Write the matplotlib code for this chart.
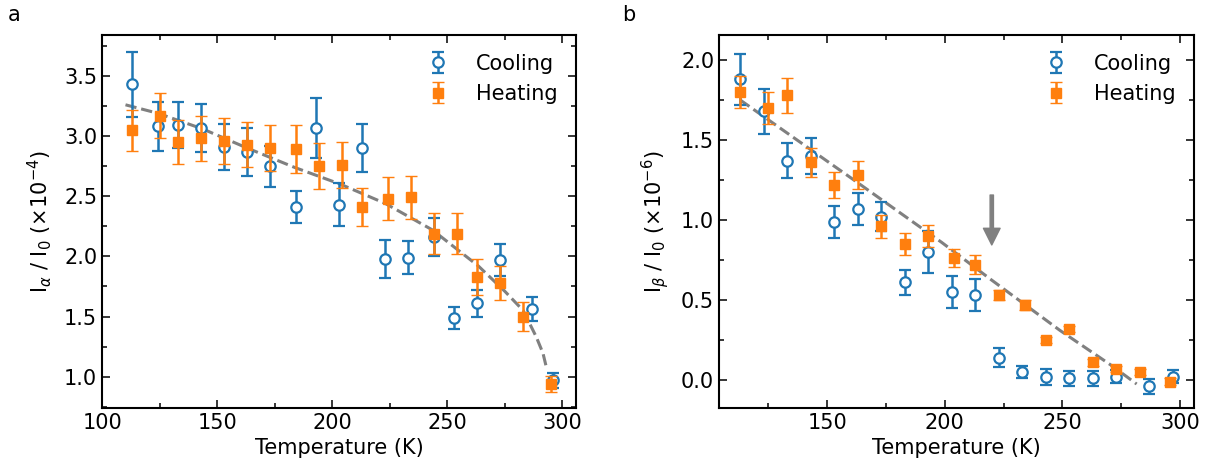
import matplotlib
matplotlib.use('Agg')
import matplotlib.pyplot as plt
from matplotlib.ticker import MultipleLocator

plt.rcParams['font.family'] = ['DejaVu Sans']
plt.rcParams['font.size'] = 15
plt.rcParams['axes.linewidth'] = 1.5

# Panel a: I_alpha / I_0 (x1e-4)
T_cool_a = [113, 124, 133, 143, 153, 163, 173, 184, 193, 203, 213, 223, 233, 244, 253, 263, 273, 287, 296]
I_cool_a = [3.43, 3.08, 3.09, 3.07, 2.91, 2.87, 2.75, 2.41, 3.07, 2.43, 2.90, 1.98, 1.99, 2.16, 1.49, 1.61, 1.97, 1.56, 0.97]
E_cool_a = [0.27, 0.20, 0.19, 0.20, 0.19, 0.20, 0.17, 0.13, 0.25, 0.18, 0.20, 0.16, 0.14, 0.16, 0.09, 0.11, 0.13, 0.10, 0.06]

T_heat_a = [113, 125, 133, 143, 153, 163, 173, 184, 194, 204, 213, 224, 234, 244, 254, 263, 273, 283, 295]
I_heat_a = [3.05, 3.17, 2.95, 2.98, 2.96, 2.93, 2.90, 2.89, 2.75, 2.76, 2.41, 2.48, 2.49, 2.19, 2.19, 1.83, 1.78, 1.50, 0.94]
E_heat_a = [0.17, 0.19, 0.18, 0.19, 0.19, 0.19, 0.19, 0.20, 0.19, 0.19, 0.16, 0.18, 0.18, 0.17, 0.17, 0.15, 0.14, 0.12, 0.07]

T_fit_a = [110, 124, 143.5, 163, 183.5, 203.5, 223, 243.5, 253.5, 263.5, 275, 283, 288.7, 291.6, 293.3]
I_fit_a = [3.26, 3.19, 3.06, 2.90, 2.74, 2.60, 2.44, 2.22, 2.07, 1.92, 1.71, 1.55, 1.33, 1.195, 1.06]

# Panel b: I_beta / I_0 (x1e-6)
T_cool_b = [113, 123, 133, 143, 153, 163, 173, 183, 193, 203, 213, 223, 233, 243, 253, 263, 273, 287, 297]
I_cool_b = [1.88, 1.68, 1.37, 1.40, 0.99, 1.07, 1.02, 0.61, 0.80, 0.55, 0.53, 0.14, 0.05, 0.02, 0.01, 0.01, 0.02, -0.04, 0.02]
E_cool_b = [0.16, 0.14, 0.11, 0.11, 0.10, 0.10, 0.09, 0.08, 0.13, 0.10, 0.10, 0.06, 0.04, 0.05, 0.045, 0.045, 0.04, 0.047, 0.04]

T_heat_b = [113, 125, 133, 143, 153, 163, 173, 183, 193, 204, 213, 223, 234, 243, 253, 263, 273, 283, 296]
I_heat_b = [1.80, 1.70, 1.78, 1.36, 1.22, 1.28, 0.96, 0.85, 0.90, 0.76, 0.72, 0.53, 0.47, 0.25, 0.32, 0.11, 0.07, 0.05, -0.01]
E_heat_b = [0.10, 0.10, 0.11, 0.09, 0.08, 0.086, 0.073, 0.07, 0.068, 0.056, 0.06, 0.03, 0.03, 0.02, 0.02, 0.02, 0.02, 0.02, 0.02]

T_fit_b = [113, 160.4, 198.7, 219.9, 249, 271, 281.6]
I_fit_b = [1.75, 1.26, 0.86, 0.625, 0.31, 0.09, -0.025]

arrow_T = 220
arrow_from, arrow_to = 1.156, 0.844

blue = '#1f77b4'
orange = '#ff7f0e'

fig = plt.figure(figsize=(12.09, 4.70), dpi=100)
ax_a = fig.add_axes([0.0844, 0.1319, 0.3921, 0.7936])
ax_b = fig.add_axes([0.5947, 0.1319, 0.3929, 0.7936])


def draw_panel(ax, Tc, Ic, Ec, Th, Ih, Eh, Tf, If):
    ax.plot(Tf, If, '--', color='gray', lw=2.2, zorder=1)
    ax.errorbar(Tc, Ic, yerr=Ec, fmt='o', ms=7.5, mfc='white', mec=blue, mew=1.6,
                ecolor=blue, elinewidth=1.8, capsize=4, capthick=1.8, label='Cooling', zorder=3)
    ax.errorbar(Th, Ih, yerr=Eh, fmt='s', ms=7.5, mfc=orange, mec=orange, mew=1,
                ecolor=orange, elinewidth=1.8, capsize=4, capthick=1.8, label='Heating', zorder=4)
    ax.set_xlabel('Temperature (K)')
    ax.xaxis.set_major_locator(MultipleLocator(50))
    ax.xaxis.set_minor_locator(MultipleLocator(25))
    ax.yaxis.set_major_locator(MultipleLocator(0.5))
    ax.yaxis.set_minor_locator(MultipleLocator(0.25))
    ax.tick_params(which='both', direction='in', top=True, right=True, width=1.1)
    ax.tick_params(which='major', length=6)
    ax.tick_params(which='minor', length=3.3)
    ax.legend(loc='upper right', frameon=False, fontsize=15)


draw_panel(ax_a, T_cool_a, I_cool_a, E_cool_a, T_heat_a, I_heat_a, E_heat_a, T_fit_a, I_fit_a)
ax_a.set_xlim(99.8, 306)
ax_a.set_ylim(0.74, 3.84)
ax_a.set_ylabel(r'I$_\alpha$ / I$_0$ ($\times$10$^{-4}$)', labelpad=7)

draw_panel(ax_b, T_cool_b, I_cool_b, E_cool_b, T_heat_b, I_heat_b, E_heat_b, T_fit_b, I_fit_b)
ax_b.set_xlim(104, 306)
ax_b.set_ylim(-0.175, 2.156)
ax_b.set_ylabel(r'I$_\beta$ / I$_0$ ($\times$10$^{-6}$)', labelpad=7)
ax_b.annotate('', xy=(arrow_T, arrow_to), xytext=(arrow_T, arrow_from),
              arrowprops=dict(facecolor='gray', edgecolor='gray', width=2.4,
                              headwidth=12, headlength=12))

fig.text(8 / 1209, 0.968, 'a', va='center', ha='left', fontsize=15)
fig.text(622 / 1209, 0.968, 'b', va='center', ha='left', fontsize=15)

fig.savefig('out.png', dpi=100)
